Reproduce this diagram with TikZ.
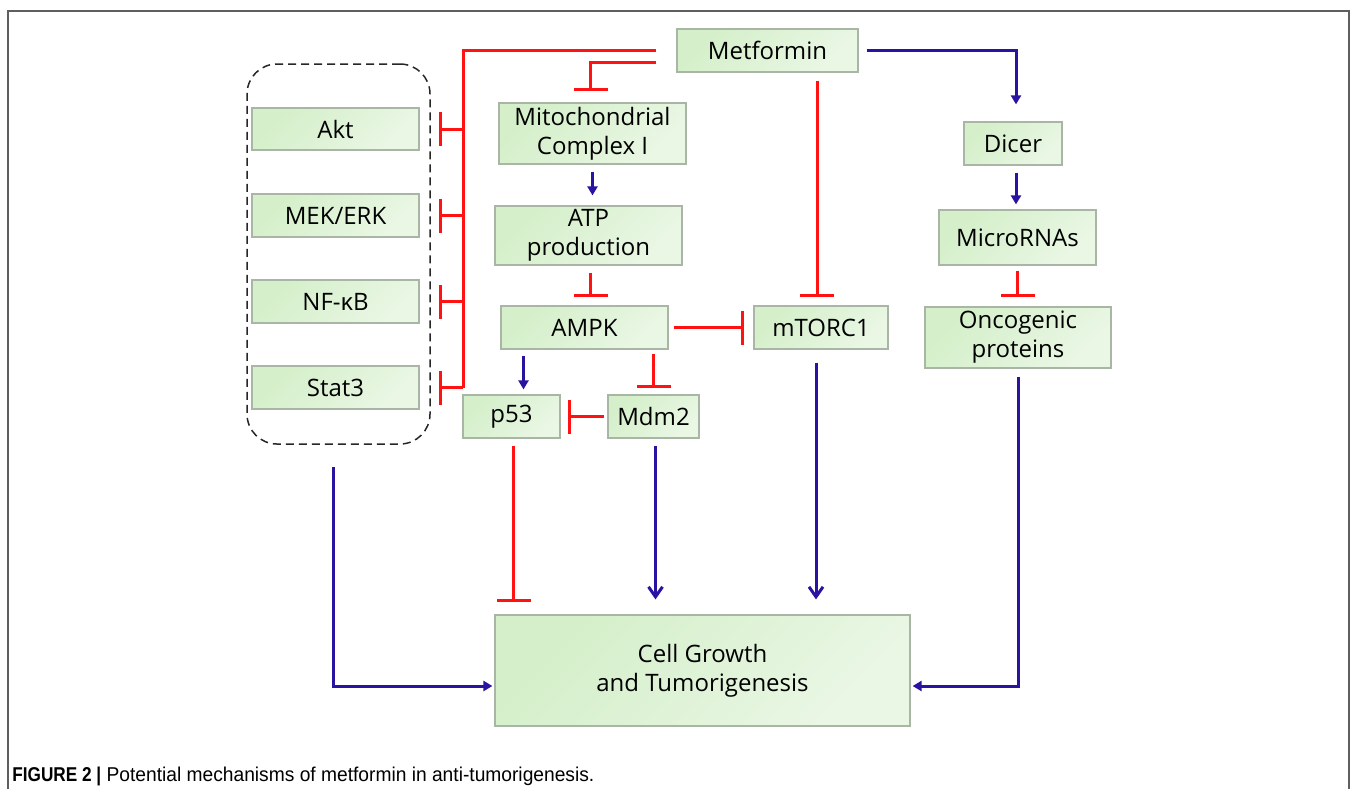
\documentclass[tikz,border=0pt]{standalone}
\usepackage{fontspec}
\setmainfont{Open Sans}
\newfontfamily\capfont[FakeStretch=0.96]{Liberation Sans}
\newfontfamily\capbold[FakeStretch=0.86]{Liberation Sans Bold}
\usetikzlibrary{arrows.meta}
\definecolor{inhred}{RGB}{255,18,18}
\definecolor{actblue}{RGB}{40,20,160}
\definecolor{boxdark}{RGB}{212,239,201}
\definecolor{boxlight}{RGB}{234,247,229}
\definecolor{boxedge}{RGB}{170,182,165}
\definecolor{framegray}{RGB}{95,95,95}

\begin{document}
\begin{tikzpicture}[x=0.5pt,y=-0.5pt,
    box/.style={draw=boxedge,line width=0.6pt,left color=boxdark,right color=boxlight,shading angle=45,
        align=center,inner sep=0pt,font=\fontsize{12}{14.5}\selectfont},
    inh/.style={inhred,line width=1.5pt,-{Bar[width=17pt]}},
    act/.style={actblue,line width=1.5pt,-{Triangle[length=4.5pt,width=5pt]}},
    actv/.style={actblue,line width=1.5pt,-{Straight Barb[length=5pt,width=7pt]}},
    ]
    \useasboundingbox (0,0) rectangle (1358,789);
    \draw[framegray,line width=0.8pt] (8,789) -- (8,11) -- (1349,11) -- (1349,789);

    \node[box,minimum width=90.5pt,minimum height=21.5pt] (met) at (767.5,50.5) {Metformin};
    \node[box,minimum width=93.5pt,minimum height=30.5pt] (mito) at (592.5,133.5) {Mitochondrial\\Complex I};
    \node[box,minimum width=93.5pt,minimum height=29.5pt] (atp) at (588.5,235.5) {ATP\\production};
    \node[box,minimum width=83.5pt,minimum height=21.5pt] (ampk) at (584.5,327.5) {AMPK};
    \node[box,minimum width=67pt,minimum height=21.5pt] (mtor) at (821,327.5) {mTORC1};
    \node[box,minimum width=48.5pt,minimum height=21.5pt] (p53) at (511.5,416.5) {p53};
    \node[box,minimum width=45.5pt,minimum height=21.5pt] (mdm) at (653.5,416.5) {Mdm2};
    \node[box,minimum width=49pt,minimum height=21.5pt] (dicer) at (1013,143.5) {Dicer};
    \node[box,minimum width=78.5pt,minimum height=27.5pt] (mirna) at (1017.5,237.5) {MicroRNAs};
    \node[box,minimum width=93pt,minimum height=30.5pt] (onco) at (1018,337.5) {Oncogenic\\proteins};
    \node[box,minimum width=83.5pt,minimum height=21pt] (akt) at (335.5,129) {Akt};
    \node[box,minimum width=83.5pt,minimum height=21.5pt] (mek) at (335.5,215.5) {MEK/ERK};
    \node[box,minimum width=83.5pt,minimum height=21.5pt] (nfkb) at (335.5,301.5) {NF-κB};
    \node[box,minimum width=83.5pt,minimum height=21.5pt] (stat) at (335.5,387.5) {Stat3};
    \node[draw=black!85,dashed,dash pattern=on 4pt off 2.5pt,line width=0.75pt,rounded corners=15pt,
        minimum width=91.5pt,minimum height=190pt] (grp) at (338.5,254) {};
    \node[box,minimum width=207.5pt,minimum height=55.5pt] (cell) at (702.5,670.5) {Cell Growth\\and Tumorigenesis};

    \coordinate (bus) at (463,50.5);
    \draw[inhred,line width=1.5pt,shorten <=10pt] (met.west) -| (bus |- stat);
    \draw[inh,shorten >=9.5pt] (bus |- akt) -- (akt.east);
    \draw[inh,shorten >=9.5pt] (bus |- mek) -- (mek.east);
    \draw[inh,shorten >=9.5pt] (bus |- nfkb) -- (nfkb.east);
    \draw[inh,shorten >=9.5pt] (bus |- stat) -- (stat.east);
    \draw[inh,shorten <=10pt,shorten >=5.5pt] ([yshift=-6pt]met.west) -| ([xshift=-1pt]mito.north);
    \draw[inh,shorten <=4pt,shorten >=4pt] ([xshift=-2pt]mtor.north |- met.south) -- ([xshift=-2pt]mtor.north);
    \draw[act,shorten <=4pt,shorten >=8.5pt] (met.east) -| ([xshift=1.5pt]dicer.north);

    \draw[act,shorten <=3.5pt,shorten >=5pt] (mito.south) -- (mito.south |- atp.north);
    \draw[inh,shorten <=3.5pt,shorten >=4pt] ([xshift=1pt]atp.south) -- ([xshift=1pt]atp.south |- ampk.north);
    \draw[inh,shorten <=2.5pt,shorten >=4.5pt] (ampk.east) -- (mtor.west);
    \draw[act,shorten <=3pt,shorten >=2.5pt] ([xshift=6pt]p53.north |- ampk.south) -- ([xshift=6pt]p53.north);
    \draw[inh,shorten <=2pt,shorten >=3pt] (mdm.north |- ampk.south) -- (mdm.north);
    \draw[inh,shorten <=1.5pt,shorten >=3.5pt] (mdm.west) -- (p53.east);

    \draw[act,shorten <=3.5pt,shorten >=2.5pt] ([xshift=1.5pt]dicer.south) -- ([xshift=1.5pt]dicer.south |- mirna.north);
    \draw[inh,shorten <=2.5pt,shorten >=4.5pt] (mirna.south) -- (mirna.south |- onco.north);

    \draw[inh,shorten <=3.5pt,shorten >=6pt] ([xshift=1pt]p53.south) -- ([xshift=1pt]p53.south |- cell.north);
    \draw[actv,shorten <=3.5pt,shorten >=7.5pt] ([xshift=1pt]mdm.south) -- ([xshift=1pt]mdm.south |- cell.north);
    \draw[actv,shorten <=6.5pt,shorten >=7.5pt] ([xshift=-2.5pt]mtor.south) -- ([xshift=-2.5pt]mtor.south |- cell.north);
    \draw[act,shorten <=11pt,shorten >=1pt] ([xshift=-2.75pt]grp.south) |- ([yshift=-7.75pt]cell.west);
    \draw[act,shorten <=4pt,shorten >=1pt] (onco.south) |- ([yshift=-7.75pt]cell.east);

    \node[anchor=base west,inner sep=0pt,font=\capfont\fontsize{10}{12}\selectfont] (cap) at (12,781)
        {{\capbold FIGURE 2 |} Potential mechanisms of metformin in anti-tumorigenesis.};
\end{tikzpicture}
\end{document}
